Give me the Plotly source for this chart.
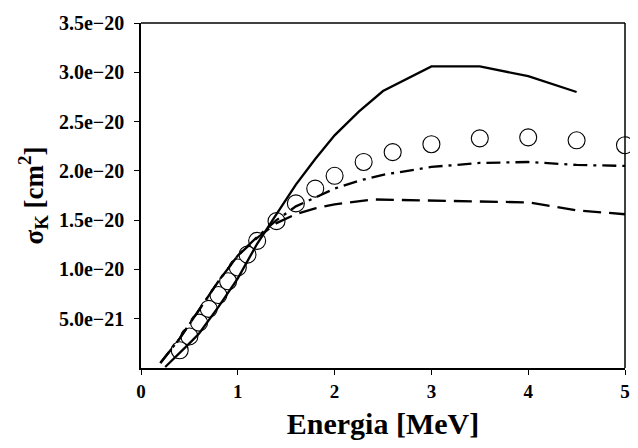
import plotly.graph_objects as go

# Experimental points (circles)
exp_x = [0.4, 0.5, 0.6, 0.7, 0.8, 0.9, 1.0, 1.1, 1.2, 1.4, 1.6, 1.8, 2.0, 2.3, 2.6, 3.0, 3.5, 4.0, 4.5, 5.0]
exp_y = [1.8e-21, 3.2e-21, 4.6e-21, 6.0e-21, 7.4e-21, 8.8e-21, 1.02e-20, 1.15e-20, 1.29e-20, 1.49e-20,
         1.67e-20, 1.82e-20, 1.95e-20, 2.09e-20, 2.19e-20, 2.27e-20, 2.33e-20, 2.34e-20, 2.31e-20, 2.26e-20]

# Solid curve
solid_x = [0.25, 0.4, 0.5, 0.6, 0.8, 1.0, 1.2, 1.4, 1.6, 1.8, 2.0, 2.25, 2.5, 3.0, 3.5, 4.0, 4.5]
solid_y = [0.1e-21, 1.5e-21, 2.5e-21, 3.5e-21, 6.2e-21, 9.1e-21, 1.26e-20, 1.56e-20, 1.86e-20, 2.12e-20,
           2.36e-20, 2.60e-20, 2.81e-20, 3.06e-20, 3.06e-20, 2.96e-20, 2.80e-20]

# Dash-dot curve
dashdot_x = [0.2, 0.4, 0.6, 0.8, 1.0, 1.2, 1.4, 1.6, 1.8, 2.0, 2.25, 2.5, 3.0, 3.5, 4.0, 4.5, 5.0]
dashdot_y = [0.5e-21, 3.0e-21, 5.9e-21, 8.8e-21, 1.14e-20, 1.33e-20, 1.50e-20, 1.64e-20, 1.73e-20, 1.82e-20,
             1.90e-20, 1.96e-20, 2.04e-20, 2.08e-20, 2.09e-20, 2.06e-20, 2.05e-20]

# Dashed curve
dashed_x = [0.2, 0.4, 0.6, 0.8, 1.0, 1.2, 1.4, 1.6, 1.8, 2.0, 2.4, 3.0, 3.5, 4.0, 4.5, 5.0]
dashed_y = [0.5e-21, 3.0e-21, 5.9e-21, 8.8e-21, 1.14e-20, 1.32e-20, 1.47e-20, 1.56e-20, 1.62e-20, 1.66e-20,
            1.71e-20, 1.70e-20, 1.69e-20, 1.68e-20, 1.60e-20, 1.56e-20]

y_ticks = [5e-21, 1e-20, 1.5e-20, 2e-20, 2.5e-20, 3e-20, 3.5e-20]
x_ticks = [0, 1, 2, 3, 4, 5]

fig = go.Figure()
fig.add_trace(go.Scatter(x=exp_x, y=exp_y, mode="markers",
                         marker=dict(symbol="circle", size=17, color="white",
                                     line=dict(color="black", width=1.1)),
                         showlegend=False, cliponaxis=False))
fig.add_trace(go.Scatter(x=solid_x, y=solid_y, mode="lines",
                         line=dict(color="black", width=2.3), showlegend=False))
fig.add_trace(go.Scatter(x=dashdot_x, y=dashdot_y, mode="lines",
                         line=dict(color="black", width=2.3, dash="14px,6px,3px,6px"), showlegend=False))
fig.add_trace(go.Scatter(x=dashed_x, y=dashed_y, mode="lines",
                         line=dict(color="black", width=2.3, dash="18px,8px"), showlegend=False))

# frame: top and right borders
fig.add_shape(type="line", xref="paper", yref="paper", x0=0, x1=1, y0=1, y1=1,
              line=dict(color="black", width=1.5), layer="above")
fig.add_shape(type="line", xref="paper", yref="paper", x0=1, x1=1, y0=0, y1=1,
              line=dict(color="black", width=1.5), layer="above")

font_family = "Liberation Serif"
fig.update_layout(
    width=630, height=432,
    margin=dict(l=133, r=13, t=15, b=72, autoexpand=False),
    paper_bgcolor="white", plot_bgcolor="white",
    font=dict(family=font_family, color="black"),
    xaxis=dict(range=[0, 5], tickvals=x_ticks, ticks="outside", ticklen=5, tickcolor="black",
               showline=True, linecolor="black", linewidth=1.5, showgrid=False,
               zeroline=False, ticklabeloverflow="allow",
               tickfont=dict(family=font_family, size=19, weight="bold"),
               title=dict(text="Energia [MeV]", font=dict(family=font_family, size=30, weight="bold"),
                          standoff=20)),
    yaxis=dict(range=[0, 3.5e-20], tickvals=y_ticks, tickformat=".1e", ticks="outside", ticklen=5,
               tickcolor="black", showline=True, linecolor="black", linewidth=1.5,
               showgrid=False, zeroline=False, ticklabelstandoff=6, ticklabeloverflow="allow",
               tickfont=dict(family=font_family, size=20, weight="bold"),
               title=dict(text="σ<sub>K</sub> [cm<sup>2</sup>]",
                          font=dict(family=font_family, size=27, weight="bold"), standoff=8)),
)

fig.write_html("out.html")
